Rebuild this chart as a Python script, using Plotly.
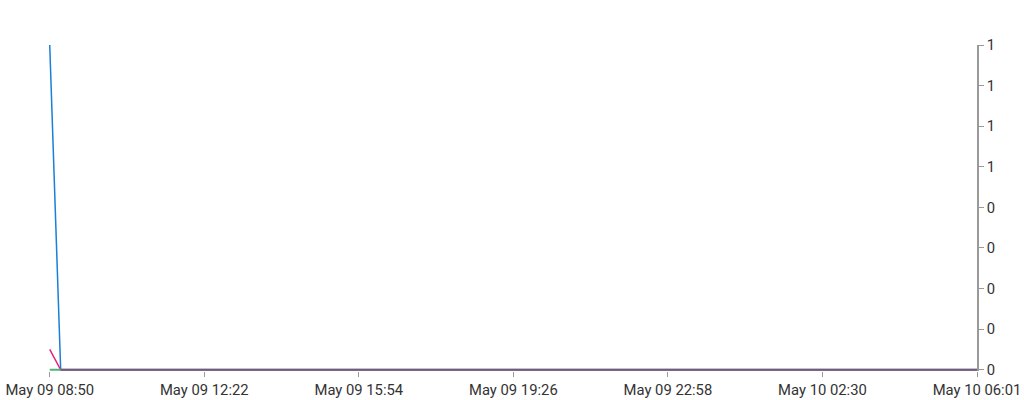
import pandas as pd
import plotly.graph_objects as go

# series data
times = ["2024-05-09 08:50", "2024-05-09 09:05", "2024-05-10 06:01"]
blue_vals = [1.6, 0, 0]
pink_vals = [0.1, 0, 0]
green_vals = [0, 0, 0]
purple_times = ["2024-05-09 09:05", "2024-05-10 06:01"]
purple_vals = [0, 0]

x_tick_text = ["May 09 08:50", "May 09 12:22", "May 09 15:54", "May 09 19:26",
               "May 09 22:58", "May 10 02:30", "May 10 06:01"]
y_tick_vals = [0, 0.2, 0.4, 0.6, 0.8, 1.0, 1.2, 1.4, 1.6]
y_tick_text = ["0", "0", "0", "0", "0", "1", "1", "1", "1"]

x_start = pd.Timestamp(times[0])
x_end = pd.Timestamp(times[-1])
x_tick_vals = pd.date_range(x_start, x_end, periods=len(x_tick_text))
# small pad so the lines on the edges are not cut in half
pad = pd.Timedelta(minutes=1)

fig = go.Figure()
fig.add_trace(go.Scatter(x=times, y=blue_vals, mode="lines",
                         line=dict(color="#1a7fd8", width=1.5), name="blue"))
fig.add_trace(go.Scatter(x=times, y=pink_vals, mode="lines",
                         line=dict(color="#e8227c", width=1.5), name="pink"))
fig.add_trace(go.Scatter(x=times, y=green_vals, mode="lines",
                         line=dict(color="#4cb57a", width=2), name="green"))
fig.add_trace(go.Scatter(x=purple_times, y=purple_vals, mode="lines",
                         line=dict(color="#7b5682", width=2), name="purple"))

fig.update_layout(
    width=1024, height=400,
    margin=dict(l=49, r=47, t=45, b=29),
    paper_bgcolor="white", plot_bgcolor="white",
    showlegend=False,
    font=dict(family="Roboto", size=14.8, color="#333"),
    xaxis=dict(range=[x_start - pad, x_end], tickvals=x_tick_vals, ticktext=x_tick_text,
               showgrid=False, zeroline=False, showline=False, automargin=False,
               ticks="outside", ticklen=5, tickcolor="#999"),
    yaxis=dict(side="right", range=[-0.006, 1.6], tickvals=y_tick_vals, ticktext=y_tick_text,
               showgrid=False, zeroline=False, showline=True, linecolor="#999",
               linewidth=1.5, automargin=False,
               ticks="outside", ticklen=5, tickcolor="#999"),
)

# drop the default page margin so the chart sits at the window corner
fig.write_html("out.html", config={"displayModeBar": False},
               post_script="document.body.style.margin = '0px';")
